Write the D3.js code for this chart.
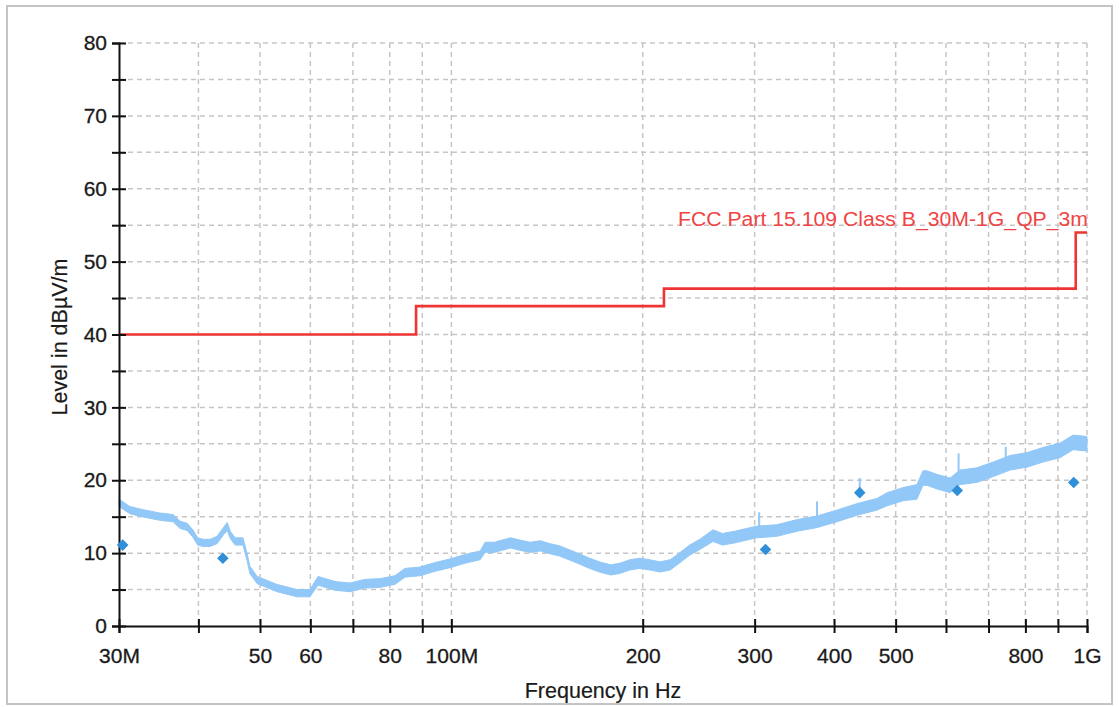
<!DOCTYPE html>
<html>
<head>
<meta charset="utf-8">
<script src="https://cdn.jsdelivr.net/npm/d3@7"></script>
<style>
  html, body { margin: 0; padding: 0; background: #fff; }
  svg { display: block; }
  text { font-family: "Liberation Sans", Arial, sans-serif; }
</style>
</head>
<body>
<svg id="chart" width="1119" height="707"></svg>
<script>
// ---------------- data ----------------
const xTickValues = [30, 40, 50, 60, 70, 80, 90, 100, 200, 300, 400, 500, 600, 700, 800, 900, 1000];
const xTickLabels = {30: "30M", 50: "50", 60: "60", 80: "80", 100: "100M", 200: "200", 300: "300", 400: "400", 500: "500", 800: "800", 1000: "1G"};
const yTickValues = [0, 5, 10, 15, 20, 25, 30, 35, 40, 45, 50, 55, 60, 65, 70, 75, 80];
const yTickLabels = {0: "0", 10: "10", 20: "20", 30: "30", 40: "40", 50: "50", 60: "60", 70: "70", 80: "80"};

// limit line (MHz, dBµV/m)
const limitFreq  = [30, 88, 216, 960, 1000];
const limitLevel = [40, 43.9, 46.3, 54, 54];
const limitName = "FCC Part 15.109 Class B_30M-1G_QP_3m";

// measured pre-scan trace (band low / high)
const traceFreq = [30, 31.2, 32.6, 34.8, 36.5, 37.4, 38.4, 39.2, 39.9, 40.7, 41.7, 42.8, 43.7, 44.4, 44.9, 45.7, 47.0, 47.7, 48.2, 49.5,
  53.2, 57.2, 59.9, 61.7, 65.6, 69.3, 73.1, 77.2, 81.5, 84.5, 89.3, 94.2, 99.5, 105, 111, 113, 117, 119, 124, 128,
  133, 138, 143, 148, 154, 159, 165, 171, 178, 184, 191, 198, 205, 213, 221, 229, 237, 246, 258, 267,
  279, 302, 325, 350, 376, 404, 435, 467, 485, 514, 540, 552, 560, 581, 609, 631, 671, 712, 757, 805,
  853, 907, 951, 1000];
const traceLow = [16.4, 15.4, 15.0, 14.5, 14.3, 13.4, 13.1, 12.2, 11.1, 10.9, 10.9, 11.3, 12.4, 13.1, 12.0, 11.1, 11.1, 9.0, 7.2, 5.8,
  4.7, 4.0, 4.0, 5.6, 4.9, 4.7, 5.2, 5.3, 5.7, 6.7, 6.9, 7.5, 8.0, 8.6, 9.1, 10.1, 10.1, 10.3, 10.7, 10.4,
  10.1, 10.3, 9.9, 9.6, 9.0, 8.5, 7.9, 7.4, 7.0, 7.2, 7.7, 7.9, 7.7, 7.4, 7.7, 8.7, 9.7, 10.5, 11.6, 11.1,
  11.4, 12.1, 12.3, 13.0, 13.5, 14.3, 15.2, 15.9, 16.5, 17.2, 17.4, 19.3, 19.3, 18.8, 18.3, 19.4, 19.7, 20.5, 21.4, 21.8,
  22.5, 23.1, 24.2, 24.0];
const traceHigh = [17.4, 16.4, 16.0, 15.5, 15.3, 14.4, 14.1, 13.2, 12.1, 11.9, 11.9, 12.3, 13.4, 14.2, 13.0, 12.1, 12.1, 10.0, 8.2, 6.8,
  5.7, 5.0, 5.0, 6.8, 6.1, 5.9, 6.4, 6.5, 6.9, 7.9, 8.1, 8.7, 9.2, 9.8, 10.3, 11.5, 11.5, 11.7, 12.1, 11.8,
  11.5, 11.7, 11.3, 11.0, 10.4, 9.9, 9.3, 8.8, 8.4, 8.6, 9.1, 9.3, 9.1, 8.8, 9.1, 10.1, 11.1, 11.9, 13.2, 12.7,
  13.0, 13.7, 13.9, 14.6, 15.1, 15.9, 16.8, 17.5, 18.3, 19.0, 19.4, 21.3, 21.3, 20.8, 20.3, 21.4, 21.7, 22.5, 23.4, 23.8,
  24.5, 25.1, 26.2, 26.0];

// isolated spikes on the trace
const spikeFreq = [305, 376, 439, 628, 745];
const spikeTop  = [15.6, 17.1, 20.3, 23.7, 24.6];

// final quasi-peak measurements
const qpFreq  = [30.4, 43.7, 312, 439, 625, 953];
const qpLevel = [11.1, 9.3, 10.5, 18.3, 18.6, 19.7];

// ---------------- drawing ----------------
const svg = d3.select("#chart");
const W = 1119, H = 707;
const plot = {left: 119, right: 1087, top: 43, bottom: 626};
const textColor = "#1a1a1a";

svg.append("rect").attr("x", 0).attr("y", 0).attr("width", W).attr("height", H).attr("fill", "#fff");
svg.append("rect").attr("x", 7).attr("y", 6).attr("width", 1105).attr("height", 698)
  .attr("fill", "none").attr("stroke", "#c4c4c4").attr("stroke-width", 2);

const x = d3.scaleLog().domain([30, 1000]).range([plot.left, plot.right]);
const y = d3.scaleLinear().domain([0, 80]).range([plot.bottom, plot.top]);

// grid
const grid = svg.append("g").attr("stroke", "#c6c6c6").attr("stroke-width", 1.5).attr("stroke-dasharray", "5,4");
grid.selectAll("line.h").data(yTickValues.filter(v => v > 0)).join("line")
  .attr("x1", plot.left).attr("x2", plot.right)
  .attr("y1", d => y(d)).attr("y2", d => y(d));
grid.selectAll("line.v").data(xTickValues.filter(v => v > 30)).join("line")
  .attr("y1", plot.top).attr("y2", plot.bottom)
  .attr("x1", d => x(d)).attr("x2", d => x(d));

// limit line
const limitData = limitFreq.map((f, i) => ({f, v: limitLevel[i]}));
svg.append("path").datum(limitData)
  .attr("fill", "none").attr("stroke", "#f03434").attr("stroke-width", 2.6)
  .attr("d", d3.line().x(d => x(d.f)).y(d => y(d.v)).curve(d3.curveStepAfter));
svg.append("text").attr("x", 678).attr("y", 226)
  .attr("fill", "#f04444").attr("font-size", 19.5)
  .attr("textLength", 410).attr("lengthAdjust", "spacingAndGlyphs")
  .text(limitName);

// trace band
const traceData = traceFreq.map((f, i) => ({f, lo: traceLow[i], hi: traceHigh[i]}));
svg.append("path").datum(traceData)
  .attr("fill", "#92c8f7").attr("stroke", "#92c8f7").attr("stroke-width", 1)
  .attr("d", d3.area().x(d => x(d.f)).y0(d => y(d.lo)).y1(d => y(d.hi)));
svg.append("g").selectAll("line").data(spikeFreq.map((f, i) => ({f, t: spikeTop[i]}))).join("line")
  .attr("x1", d => x(d.f)).attr("x2", d => x(d.f))
  .attr("y1", d => y(d.t)).attr("y2", d => y(d.t - 2.5))
  .attr("stroke", "#92c8f7").attr("stroke-width", 2);

// axes
const yAxis = d3.axisLeft(y).tickValues(yTickValues).tickSize(7).tickPadding(5)
  .tickFormat(d => yTickLabels[d] || "");
const gy = svg.append("g").attr("transform", `translate(${plot.left},0)`).call(yAxis);
gy.select(".domain").attr("stroke", "#111").attr("stroke-width", 2);
gy.selectAll(".tick line").attr("x1", 7).attr("stroke", "#111").attr("stroke-width", 2);
gy.selectAll(".tick text").attr("font-size", 21).attr("fill", textColor)
  .attr("stroke", textColor).attr("stroke-width", 0.3)
  .attr("font-family", "Liberation Sans, Arial, sans-serif");

const xAxis = d3.axisBottom(x).tickValues(xTickValues).tickSize(7).tickPadding(15)
  .tickFormat(d => xTickLabels[d] || "");
const gx = svg.append("g").attr("transform", `translate(0,${plot.bottom})`).call(xAxis);
gx.select(".domain").attr("stroke", "#111").attr("stroke-width", 2);
gx.selectAll(".tick line").attr("y1", -7).attr("stroke", "#111").attr("stroke-width", 2);
gx.selectAll(".tick text").attr("font-size", 21).attr("fill", textColor)
  .attr("stroke", textColor).attr("stroke-width", 0.3)
  .attr("font-family", "Liberation Sans, Arial, sans-serif");

// titles
svg.append("text").attr("x", 603).attr("y", 698).attr("text-anchor", "middle")
  .attr("font-size", 21.5).attr("fill", textColor).attr("stroke", textColor).attr("stroke-width", 0.2)
  .text("Frequency in Hz");
svg.append("text").attr("transform", "translate(67,337) rotate(-90)").attr("text-anchor", "middle")
  .attr("font-size", 21.5).attr("fill", textColor).attr("stroke", textColor).attr("stroke-width", 0.2)
  .text("Level in dBµV/m");

// QP markers
const sym = d3.symbol().type(d3.symbolDiamond2).size(85);
svg.append("g").selectAll("path").data(qpFreq.map((f, i) => ({f, v: qpLevel[i]}))).join("path")
  .attr("d", sym)
  .attr("transform", d => `translate(${x(d.f)},${y(d.v)})`)
  .attr("fill", "#2f8fd8");
</script>
</body>
</html>
